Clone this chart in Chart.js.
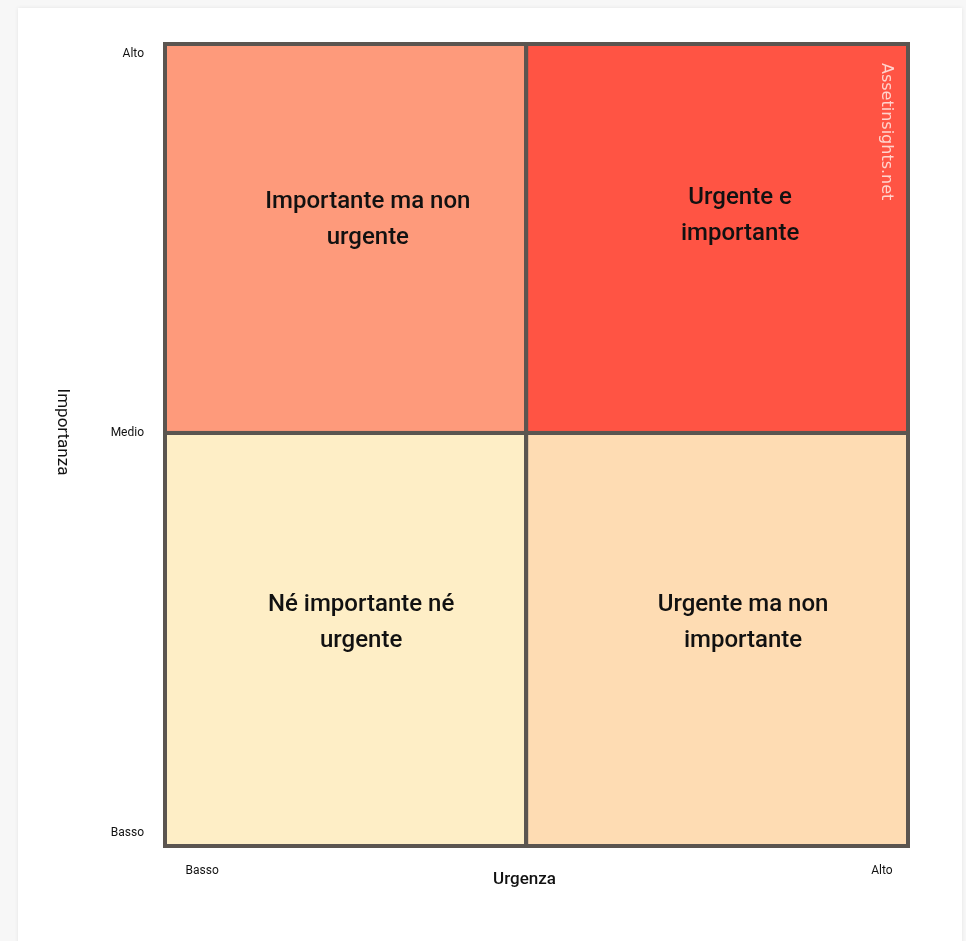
<!DOCTYPE html>
<html>
<head>
<meta charset="utf-8">
<script src="https://cdn.jsdelivr.net/npm/chart.js@4"></script>
<style>
  html, body { margin: 0; padding: 0; background: #f7f7f7; width: 966px; height: 941px; overflow: hidden; }
  #card { position: absolute; left: 18px; top: 8px; width: 944px; height: 945px; background: #ffffff;
          box-shadow: 0 0 4px rgba(0,0,0,0.08); }
  #wrap { position: absolute; left: 0; top: 0; width: 944px; height: 933px; }
</style>
</head>
<body>
<div id="card"><div id="wrap"><canvas id="c"></canvas></div></div>
<script>
// ---- data ----
const quadrantNames = ["Importante ma non urgente", "Urgente e importante", "Né importante né urgente", "Urgente ma non importante"];
const quadrantLines = [["Importante ma non", "urgente"], ["Urgente e", "importante"], ["Né importante né", "urgente"], ["Urgente ma non", "importante"]];
const quadrantXFrom = [0, 48.6, 0, 48.6];
const quadrantXTo   = [48.6, 100, 48.6, 100];
const quadrantYFrom = [51.5, 51.5, 0, 0];
const quadrantYTo   = [100, 100, 51.5, 51.5];
const labelX = [27.3, 77.4, 26.4, 77.8];
const labelY = [78.0, 78.6, 27.8, 27.8];
const xTickValues = [5, 96.5];
const xTickLabels = ["Basso", "Alto"];
const yTickValues = [1.6, 51.5, 98.75];
const yTickLabels = ["Basso", "Medio", "Alto"];
const xTitle = "Urgenza";
const yTitle = "Importanza";
const watermark = "Assetinsights.net";

// ---- styles ----
const quadrantColors = ["#fe9a7b", "#ff5444", "#feeec6", "#fedcb3"];
const borderColor = "#5b5550";

const quadrantPlugin = {
  id: "quadrants",
  beforeDatasetsDraw(chart) {
    const { ctx, scales: { x, y }, chartArea } = chart;
    ctx.save();
    for (let i = 0; i < quadrantNames.length; i++) {
      const x0 = x.getPixelForValue(quadrantXFrom[i]);
      const x1 = x.getPixelForValue(quadrantXTo[i]);
      const y0 = y.getPixelForValue(quadrantYTo[i]);
      const y1 = y.getPixelForValue(quadrantYFrom[i]);
      ctx.fillStyle = quadrantColors[i];
      ctx.fillRect(x0, y0, x1 - x0, y1 - y0);
    }
    ctx.strokeStyle = borderColor;
    ctx.lineWidth = 4;
    for (let i = 0; i < quadrantNames.length; i++) {
      const x0 = x.getPixelForValue(quadrantXFrom[i]);
      const x1 = x.getPixelForValue(quadrantXTo[i]);
      const y0 = y.getPixelForValue(quadrantYTo[i]);
      const y1 = y.getPixelForValue(quadrantYFrom[i]);
      ctx.strokeRect(x0, y0, x1 - x0, y1 - y0);
    }
    // quadrant labels
    ctx.fillStyle = "#111111";
    ctx.font = "500 24px Roboto";
    ctx.textAlign = "center";
    ctx.textBaseline = "middle";
    const lh = 36;
    for (let i = 0; i < quadrantLines.length; i++) {
      const cx = x.getPixelForValue(labelX[i]);
      const cy = y.getPixelForValue(labelY[i]);
      const lines = quadrantLines[i];
      lines.forEach((t, k) => {
        ctx.fillText(t, cx, cy + (k - (lines.length - 1) / 2) * lh);
      });
    }
    // watermark
    ctx.save();
    ctx.translate(chartArea.right - 22, chartArea.top + 19);
    ctx.rotate(Math.PI / 2);
    ctx.font = "16px DejaVu Sans";
    ctx.fillStyle = "rgba(255,235,230,0.85)";
    ctx.textAlign = "left";
    ctx.textBaseline = "middle";
    ctx.fillText(watermark, 0, 0);
    ctx.restore();
    ctx.restore();
  },
  afterDraw(chart) {
    const { ctx, chartArea } = chart;
    ctx.save();
    ctx.fillStyle = "#111111";
    ctx.textAlign = "center";
    ctx.textBaseline = "middle";
    ctx.font = "500 17px Roboto";
    ctx.fillText(xTitle, (chartArea.left + chartArea.right) / 2 - 12, chartArea.bottom + 34);
    ctx.translate(chartArea.left - 103, (chartArea.top + chartArea.bottom) / 2 - 13);
    ctx.rotate(Math.PI / 2);
    ctx.font = "17px Roboto";
    ctx.fillText(yTitle, 0, 0);
    ctx.restore();
  }
};

new Chart(document.getElementById("c"), {
  type: "scatter",
  data: { datasets: [{ data: [], pointRadius: 0 }] },
  options: {
    responsive: true,
    maintainAspectRatio: false,
    animation: false,
    layout: { padding: { left: 0, right: 54, top: 36, bottom: 0 } },
    plugins: { legend: { display: false }, tooltip: { enabled: false } },
    scales: {
      x: {
        type: "linear", min: 0, max: 100,
        grid: { display: false, drawTicks: false },
        border: { display: false },
        afterBuildTicks: (s) => { s.ticks = xTickValues.map(v => ({ value: v })); },
        afterFit: (s) => { s.height = 95; },
        ticks: {
          padding: 18, maxRotation: 0, autoSkip: false,
          color: "#111111", font: { family: "Roboto", size: 12 },
          callback: (v, i) => xTickLabels[i]
        }
      },
      y: {
        type: "linear", min: 0, max: 100,
        grid: { display: false, drawTicks: false },
        border: { display: false },
        afterBuildTicks: (s) => { s.ticks = yTickValues.map(v => ({ value: v })); },
        afterFit: (s) => { s.width = 147; },
        ticks: {
          padding: 21, autoSkip: false,
          color: "#111111", font: { family: "Roboto", size: 12 },
          callback: (v, i) => yTickLabels[i]
        }
      }
    }
  },
  plugins: [quadrantPlugin]
});
</script>
</body>
</html>
